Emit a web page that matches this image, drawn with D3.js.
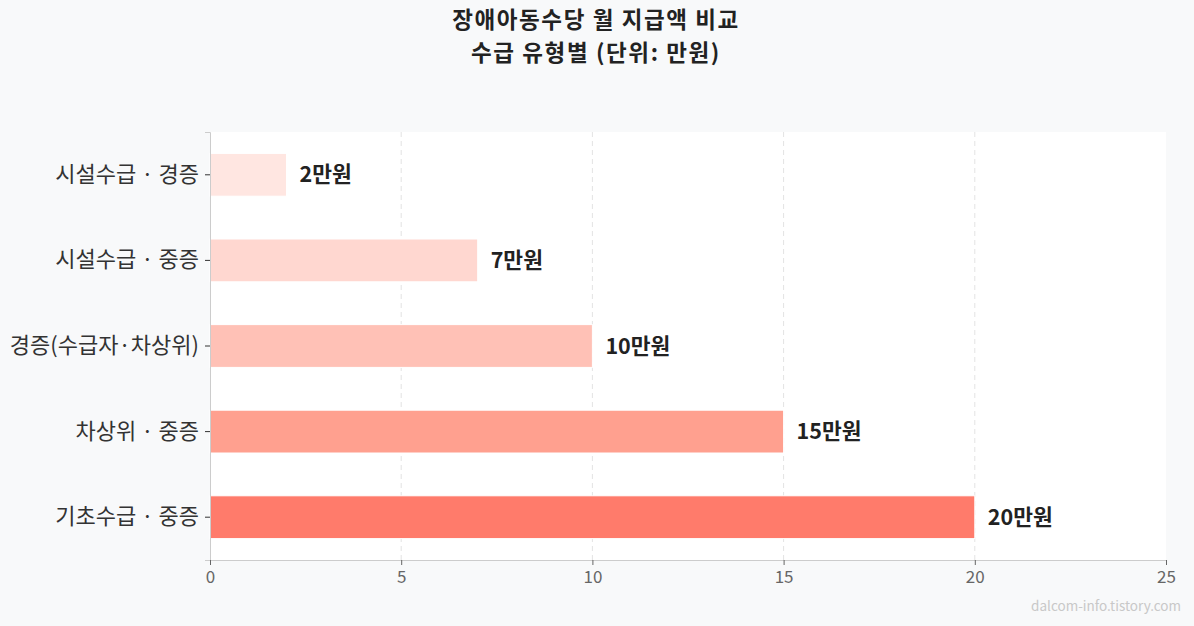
<!DOCTYPE html>
<html>
<head>
<meta charset="utf-8">
<script src="https://cdn.jsdelivr.net/npm/d3@7"></script>
<style>
  body { margin: 0; background: #f8f9fa; }
  svg { display: block; font-family: "Noto Sans CJK KR", "Noto Sans", sans-serif; }
</style>
</head>
<body>
<div id="chart"></div>
<script>
// chart data
const categories = ["시설수급 · 경증", "시설수급 · 중증", "경증(수급자·차상위)", "차상위 · 중증", "기초수급 · 중증"];
const amounts = [2, 7, 10, 15, 20];
const barColors = ["#ffe6e1", "#ffd7d0", "#ffc1b6", "#ffa08f", "#ff7b6b"];
const xTicks = [0, 5, 10, 15, 20, 25];
const titleLines = ["장애아동수당 월 지급액 비교", "수급 유형별 (단위: 만원)"];

const width = 1194;
const height = 626;
const margin = {left: 210, right: 28, top: 132, bottom: 66};

const svg = d3.select("#chart")
  .append("svg")
  .attr("width", width)
  .attr("height", height);

svg.append("rect")
  .attr("width", width)
  .attr("height", height)
  .attr("fill", "#f8f9fa");

// plot area background
svg.append("rect")
  .attr("x", margin.left)
  .attr("y", margin.top)
  .attr("width", width - margin.left - margin.right)
  .attr("height", height - margin.top - margin.bottom)
  .attr("fill", "#ffffff");

const x = d3.scaleLinear()
  .domain([0, 25])
  .range([margin.left, width - margin.right]);

const y = d3.scaleBand()
  .domain(categories)
  .range([margin.top, height - margin.bottom])
  .paddingInner(0.5)
  .paddingOuter(0.25);

// dashed grid
svg.append("g")
  .selectAll("line")
  .data(xTicks.filter(t => t > 0 && t < 25))
  .join("line")
    .attr("x1", d => x(d))
    .attr("x2", d => x(d))
    .attr("y1", margin.top)
    .attr("y2", height - margin.bottom)
    .attr("stroke", "#e3e3e3")
    .attr("stroke-width", 1)
    .attr("stroke-dasharray", "5,4");

// bars
svg.append("g")
  .selectAll("rect")
  .data(categories)
  .join("rect")
    .attr("x", x(0))
    .attr("y", d => y(d))
    .attr("width", (d, i) => x(amounts[i]) - x(0))
    .attr("height", y.bandwidth())
    .attr("fill", (d, i) => barColors[i])
    .attr("stroke", "#ffffff")
    .attr("stroke-width", 1);

// value labels
svg.append("g")
  .selectAll("text")
  .data(categories)
  .join("text")
    .attr("x", (d, i) => x(amounts[i]) + 13)
    .attr("y", d => y(d) + y.bandwidth() / 2)
    .attr("dy", "0.35em")
    .style("font-size", "21.5px")
    .style("font-weight", "bold")
    .attr("fill", "#222")
    .text((d, i) => amounts[i] + "만원");

// y axis
const yAxis = svg.append("g")
  .attr("transform", `translate(${margin.left},0)`)
  .call(d3.axisLeft(y).tickSize(5).tickPadding(6));
yAxis.select(".domain").attr("stroke", "#cccccc");
yAxis.selectAll(".tick line").attr("stroke", "#333");
yAxis.selectAll(".tick text")
  .style("font-size", "22px")
  .style("font-family", "'Noto Sans CJK KR', sans-serif")
  .attr("fill", "#333");

// x axis
const xAxis = svg.append("g")
  .attr("transform", `translate(0,${height - margin.bottom})`)
  .call(d3.axisBottom(x).tickValues(xTicks).tickSize(5).tickPadding(6));
xAxis.select(".domain").attr("stroke", "#cccccc");
xAxis.selectAll(".tick line").attr("stroke", "#666");
xAxis.selectAll(".tick text")
  .style("font-size", "17px")
  .style("font-family", "'Noto Sans CJK KR', sans-serif")
  .attr("fill", "#666");

// title, two lines
svg.append("g")
  .selectAll("text")
  .data(titleLines)
  .join("text")
    .attr("x", width / 2 - 1)
    .attr("y", (d, i) => 28 + i * 33)
    .attr("text-anchor", "middle")
    .style("font-size", "22.5px")
    .style("font-weight", "bold")
    .style("letter-spacing", "1.6px")
    .attr("fill", "#222")
    .text(d => d);

// watermark
svg.append("text")
  .attr("x", 1181)
  .attr("y", 611)
  .attr("text-anchor", "end")
  .style("font-size", "13.5px")
  .attr("fill", "#c8c8c8")
  .text("dalcom-info.tistory.com");
</script>
</body>
</html>
